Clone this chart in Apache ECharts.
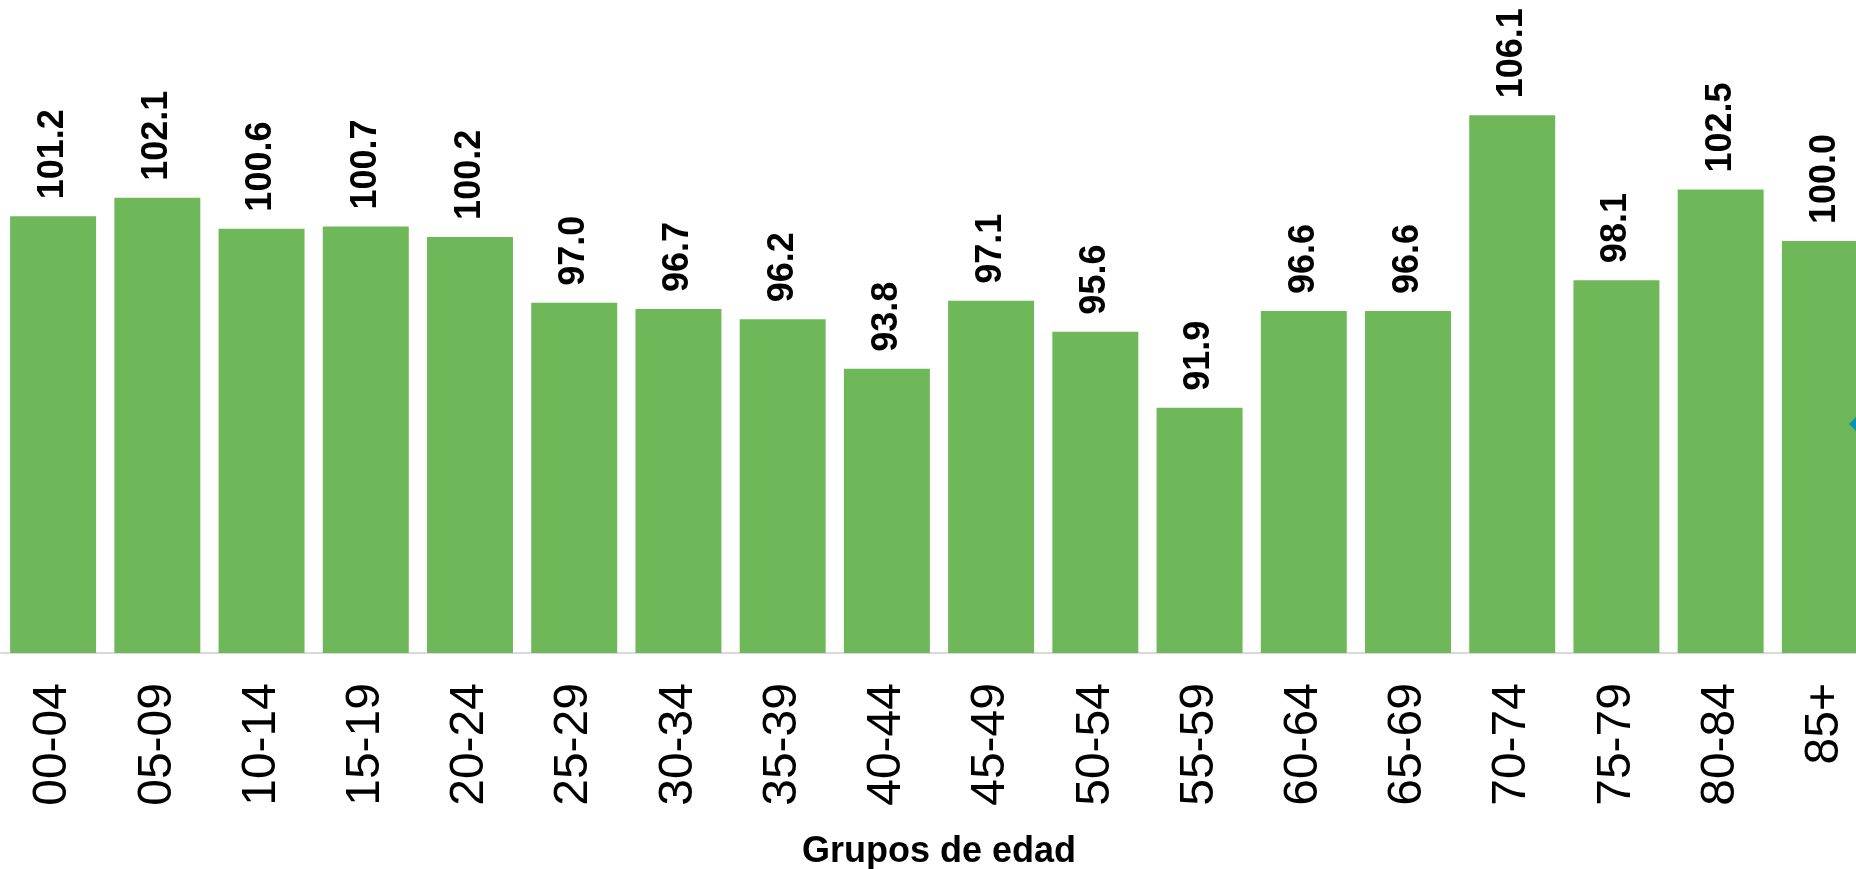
<!DOCTYPE html>
<html>
<head>
<meta charset="utf-8">
<script src="https://cdn.jsdelivr.net/npm/echarts@6/dist/echarts.min.js"></script>
<style>
  html, body { margin: 0; padding: 0; background: #fff; }
  #chart { width: 1856px; height: 869px; }
</style>
</head>
<body>
<div id="chart"></div>
<script>
const ageGroups = ['00-04', '05-09', '10-14', '15-19', '20-24', '25-29', '30-34', '35-39', '40-44',
  '45-49', '50-54', '55-59', '60-64', '65-69', '70-74', '75-79', '80-84', '85+'];
const ratioValues = [101.2, 102.1, 100.6, 100.7, 100.2, 97.0, 96.7, 96.2, 93.8,
  97.1, 95.6, 91.9, 96.6, 96.6, 106.1, 98.1, 102.5, 100.0];
const barName = 'Índice de masculinidad';
const lineName = 'Promedio';

const myChart = echarts.init(document.getElementById('chart'), null, { renderer: 'canvas' });

const option = {
  animation: false,
  textStyle: { fontFamily: 'Liberation Sans, Arial, sans-serif' },
  grid: {
    left: 1,
    top: 35,
    width: 1876,
    bottom: 216,
    containLabel: false,
    outerBoundsMode: 'none'
  },
  // only the marker is visible, the rest is cut by the window edge
  legend: {
    data: [{ name: lineName, icon: 'diamond' }],
    left: 1849,
    top: 414,
    padding: 0,
    itemWidth: 20,
    itemHeight: 20,
    textStyle: { fontSize: 12 }
  },
  xAxis: {
    type: 'category',
    data: ageGroups,
    name: 'Grupos de edad',
    nameLocation: 'middle',
    nameGap: 181,
    nameTextStyle: { fontSize: 36, fontWeight: 'bold', color: '#000' },
    axisLine: { lineStyle: { color: '#d9d9d9', width: 2 } },
    axisTick: { show: false },
    axisLabel: {
      rotate: 90,
      fontSize: 48,
      color: '#000',
      margin: 30,
      interval: 0
    }
  },
  yAxis: {
    type: 'value',
    min: 80,
    max: 110,
    show: false,
    splitLine: { show: false }
  },
  series: [
    {
      name: barName,
      type: 'bar',
      data: ratioValues,
      barCategoryGap: '17.5%',
      itemStyle: { color: '#6fb85a' },
      label: {
        show: true,
        position: 'top',
        rotate: 90,
        align: 'left',
        verticalAlign: 'middle',
        distance: 17,
        fontSize: 36,
        fontWeight: 'bold',
        color: '#000',
        formatter: p => p.value.toFixed(1)
      }
    },
    {
      name: lineName,
      type: 'line',
      data: [],
      itemStyle: { color: '#0e8fb5' }
    }
  ]
};

myChart.setOption(option);
window.addEventListener('resize', myChart.resize);
</script>
</body>
</html>
